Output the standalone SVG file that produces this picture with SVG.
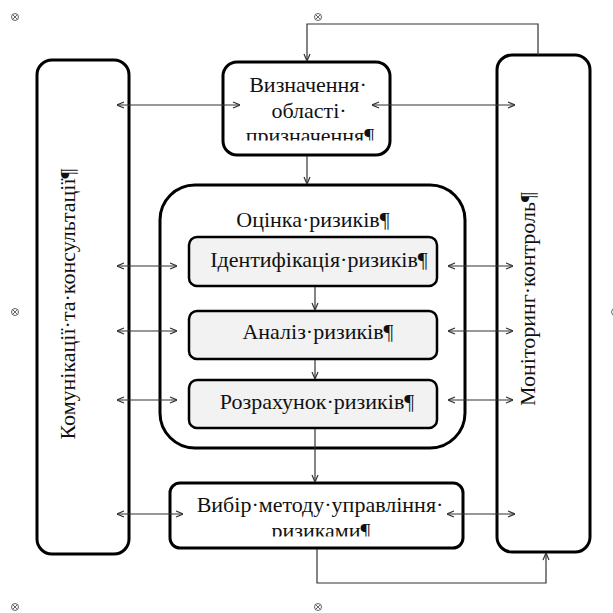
<svg xmlns="http://www.w3.org/2000/svg" width="613" height="613" viewBox="0 0 613 613">
<style>
.box{fill:#fff;stroke:#000;stroke-width:3}
.inner{fill:#f2f2f2;stroke:#000;stroke-width:2.5}
.t{font-family:"Liberation Serif","Times New Roman",serif;font-size:22px;fill:#111;text-anchor:middle}
.c{fill:none;stroke:#333;stroke-width:1.2}
.anc{fill:none;stroke:#555;stroke-width:0.9}
</style>
<defs>
<marker id="ah" viewBox="0 0 8 8" refX="8" refY="4" markerWidth="8" markerHeight="8" orient="auto-start-reverse" markerUnits="userSpaceOnUse">
<path d="M1,1 L8,4 L1,7" fill="none" stroke="#333" stroke-width="1.2"/>
</marker>
<clipPath id="clipTop"><rect x="223" y="62" width="167" height="78.5"/></clipPath>
<clipPath id="clipBot"><rect x="170" y="483" width="293" height="53.5"/></clipPath>
<g id="anchor"><circle r="3.5" class="anc"/><path d="M-2.4,-2.4 L2.4,2.4 M-2.4,2.4 L2.4,-2.4" class="anc"/></g>
</defs>

<g id="anchors">
<use href="#anchor" x="15" y="17"/>
<use href="#anchor" x="318" y="17"/>
<use href="#anchor" x="15" y="312"/>
<use href="#anchor" x="318" y="607"/>
<use href="#anchor" x="15" y="607"/>
<use href="#anchor" x="615" y="312"/>
</g>

<g id="comm">
<rect class="box" x="37" y="60" width="92" height="494" rx="15"/>
<text class="t" transform="translate(75,304) rotate(-90)">Комунікації·та·консультації¶</text>
</g>

<g id="monitor">
<rect class="box" x="497" y="55" width="93" height="497" rx="15"/>
<text class="t" transform="translate(535,299) rotate(-90)">Моніторинг·контроль¶</text>
</g>

<g id="scope">
<rect class="box" x="223" y="62" width="167" height="93" rx="14"/>
<g clip-path="url(#clipTop)">
<text class="t" x="308" y="92">Визначення·</text>
<text class="t" x="309" y="118">області·</text>
<text class="t" x="310" y="143">призначення¶</text>
</g>
</g>

<g id="assessment">
<rect class="box" x="160" y="185" width="305" height="263" rx="35"/>
<text class="t" x="313" y="227">Оцінка·ризиків¶</text>
</g>

<g id="ident">
<rect class="inner" x="189" y="237" width="248" height="49" rx="8"/>
<text class="t" x="319" y="267">Ідентифікація·ризиків¶</text>
</g>

<g id="analysis">
<rect class="inner" x="189" y="311" width="248" height="48" rx="8"/>
<text class="t" x="318" y="339">Аналіз·ризиків¶</text>
</g>

<g id="calc">
<rect class="inner" x="189" y="380" width="248" height="48" rx="8"/>
<text class="t" x="317" y="409">Розрахунок·ризиків¶</text>
</g>

<g id="choice">
<rect class="box" x="170" y="483" width="293" height="65" rx="10"/>
<g clip-path="url(#clipBot)">
<text class="t" x="320" y="512">Вибір·методу·управління·</text>
<text class="t" x="321" y="538">ризиками¶</text>
</g>
</g>

<g id="connectors">
<line class="c" x1="117" y1="105" x2="240" y2="105" marker-start="url(#ah)" marker-end="url(#ah)"/>
<line class="c" x1="372" y1="105" x2="515" y2="105" marker-start="url(#ah)" marker-end="url(#ah)"/>
<line class="c" x1="117" y1="266" x2="177" y2="266" marker-start="url(#ah)" marker-end="url(#ah)"/>
<line class="c" x1="448" y1="266" x2="513" y2="266" marker-start="url(#ah)" marker-end="url(#ah)"/>
<line class="c" x1="117" y1="331" x2="177" y2="331" marker-start="url(#ah)" marker-end="url(#ah)"/>
<line class="c" x1="448" y1="331" x2="513" y2="331" marker-start="url(#ah)" marker-end="url(#ah)"/>
<line class="c" x1="117" y1="400" x2="177" y2="400" marker-start="url(#ah)" marker-end="url(#ah)"/>
<line class="c" x1="448" y1="400" x2="513" y2="400" marker-start="url(#ah)" marker-end="url(#ah)"/>
<line class="c" x1="117" y1="514" x2="183" y2="514" marker-start="url(#ah)" marker-end="url(#ah)"/>
<line class="c" x1="447" y1="514" x2="515" y2="514" marker-start="url(#ah)" marker-end="url(#ah)"/>
<line class="c" x1="307" y1="156" x2="307" y2="184" marker-end="url(#ah)"/>
<path class="c" d="M538,55 V24 H307 V61" marker-end="url(#ah)"/>
<line class="c" x1="315" y1="287" x2="315" y2="310" marker-end="url(#ah)"/>
<line class="c" x1="315" y1="360" x2="315" y2="379" marker-end="url(#ah)"/>
<line class="c" x1="315" y1="429" x2="315" y2="482" marker-end="url(#ah)"/>
<path class="c" d="M317,549 V583 H546 V553" marker-end="url(#ah)"/>
</g>
</svg>
